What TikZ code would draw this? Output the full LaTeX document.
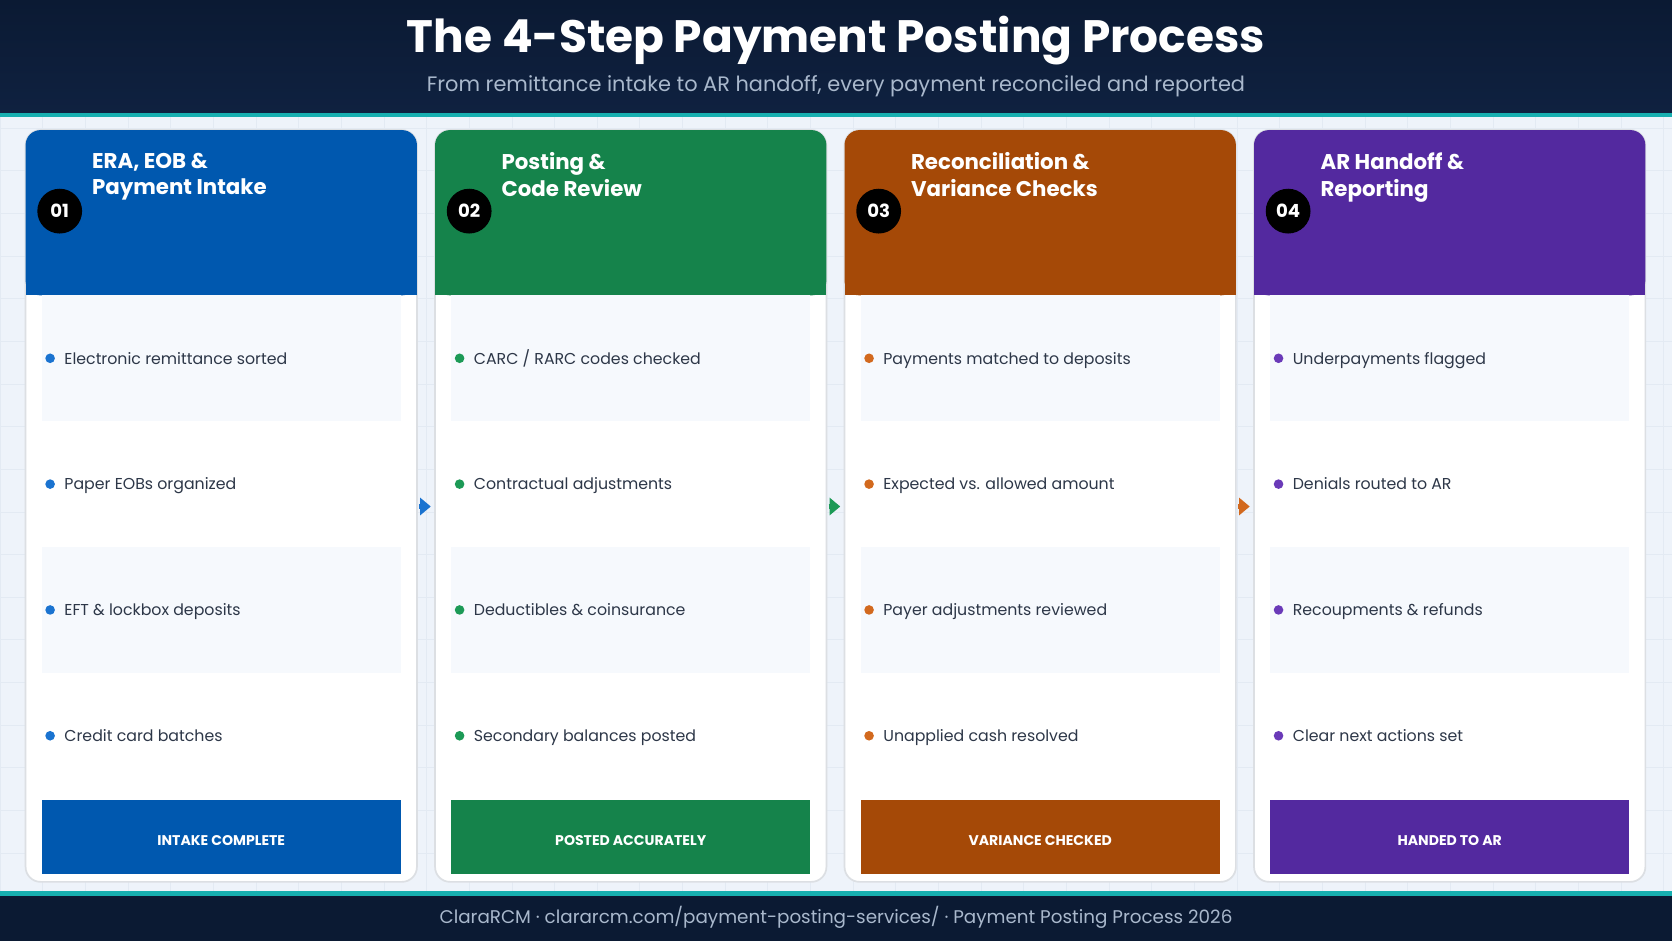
\documentclass[tikz,border=0pt]{standalone}
\usepackage{fontspec}
\setmainfont{Poppins}
\usetikzlibrary{arrows.meta}
\definecolor{navy}{HTML}{0F2140}
\definecolor{navyb}{HTML}{0B1A33}
\definecolor{teal}{HTML}{17AFB0}
\definecolor{bodybg}{HTML}{EEF3FA}
\definecolor{gridc}{HTML}{E3EAF3}
\definecolor{rowbg}{HTML}{F6F9FD}
\definecolor{txt}{HTML}{2D3748}
\definecolor{subt}{HTML}{A9B8CC}
\definecolor{cA}{HTML}{0058AF}\definecolor{bA}{HTML}{1A73D0}
\definecolor{cB}{HTML}{15834B}\definecolor{bB}{HTML}{1C9A56}
\definecolor{cC}{HTML}{A54907}\definecolor{bC}{HTML}{D2691E}
\definecolor{cD}{HTML}{53299F}\definecolor{bD}{HTML}{6A3AB8}
\begin{document}
\begin{tikzpicture}[x=0.5pt,y=-0.5pt,
 item/.style={anchor=base west,font=\fontsize{7.4}{9}\selectfont,text=txt,inner sep=0},
 ttl/.style={anchor=north west,align=left,font=\fontsize{10}{12.5}\selectfont\bfseries,text=white,inner sep=0},
 num/.style={circle,fill=black,minimum size=21pt,inner sep=0,text=white,font=\fontsize{8.5}{9}\selectfont\bfseries},
 btn/.style={font=\fontsize{6.6}{8}\selectfont\bfseries,text=white}]
\useasboundingbox (0,0) rectangle (1568,882);
\fill[bodybg] (0,0) rectangle (1568,882);
\foreach \x in {0,40,...,1568} \draw[gridc,line width=0.3pt] (\x,110) -- (\x,836);
\foreach \y in {120,160,...,836} \draw[gridc,line width=0.3pt] (0,\y) -- (1568,\y);
\shade[top color=navyb,bottom color=navy] (0,0) rectangle (1568,106);
\fill[teal] (0,106) rectangle (1568,110);
\node[font=\fontsize{21.3}{26}\selectfont\bfseries,text=white] (title) at (784,38) {The 4-Step Payment Posting Process};
\node[font=\fontsize{9.8}{12}\selectfont,text=subt] (sub) at (784,81) {From remittance intake to AR handoff, every payment reconciled and reported};
\fill[teal] (0,836) rectangle (1568,840);
\fill[navyb] (0,840) rectangle (1568,882);
\node[font=\fontsize{8.6}{11}\selectfont,text=subt] (foot) at (784,860) {ClaraRCM · clararcm.com/payment-posting-services/ · Payment Posting Process 2026};
\foreach \i/\x/\c/\b/\n/\t/\ia/\ib/\ic/\id/\bt in {
 1/24/cA/bA/01/{ERA, EOB \&\\Payment Intake}/{Electronic remittance sorted}/{Paper EOBs organized}/{EFT \& lockbox deposits}/{Credit card batches}/{INTAKE COMPLETE},
 2/408/cB/bB/02/{Posting \&\\Code Review}/{CARC / RARC codes checked}/{Contractual adjustments}/{Deductibles \& coinsurance}/{Secondary balances posted}/{POSTED ACCURATELY},
 3/792/cC/bC/03/{Reconciliation \&\\Variance Checks}/{Payments matched to deposits}/{Expected vs. allowed amount}/{Payer adjustments reviewed}/{Unapplied cash resolved}/{VARIANCE CHECKED},
 4/1176/cD/bD/04/{AR Handoff \&\\Reporting}/{Underpayments flagged}/{Denials routed to AR}/{Recoupments \& refunds}/{Clear next actions set}/{HANDED TO AR}}{
 \draw[fill=white,draw=gridc!70!gray!60,line width=0.8pt,rounded corners=7pt] (\x,122) rectangle (\x+367,827);
 \fill[\c,rounded corners=7pt] (\x,277) -- (\x,122) -- (\x+367,122) -- (\x+367,277) -- cycle;
 \fill[\c] (\x,260) rectangle (\x+367,277);
 \node[num] (n\i) at (\x+32,198) {\n};
 \node[ttl] (t\i) at (\x+62,143) {\t};
 \fill[rowbg] (\x+15,277) rectangle (\x+352,395);
 \fill[rowbg] (\x+15,513) rectangle (\x+352,631);
 \foreach \k/\yy/\tx in {a/336/\ia,b/454/\ib,c/572/\ic,d/690/\id}{
  \fill[\b] (\x+23,\yy) circle (4.5);
  \node[item] (i\i\k) at (\x+36,\yy+5.5) {\tx};
 }
 \fill[\c] (\x+15,750) rectangle (\x+352,820);
 \node[btn] (b\i) at (\x+183.5,788) {\bt};
}
\foreach \x/\c in {398/bA,782/bB,1166/bC}{
 \coordinate (s\x) at (\x-5,475); \coordinate (e\x) at (\x+6,475);
 \draw[\c,line width=2pt,-{Triangle[length=5pt,width=8pt]}] (s\x) -- (e\x);
}
\end{tikzpicture}
\end{document}
